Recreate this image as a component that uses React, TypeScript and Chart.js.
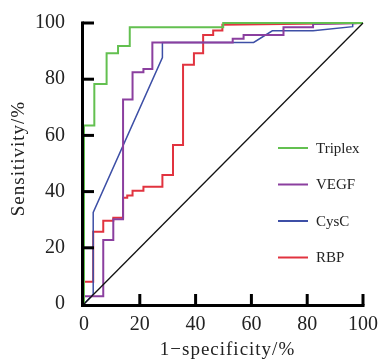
import React, { useEffect, useRef } from "react";
import { Chart, registerables } from "chart.js";

Chart.register(...registerables);

const axisTicks = [0, 20, 40, 60, 80, 100];
const seriesNames = ["Triplex", "VEGF", "CysC", "RBP"];
const xTitle = "1\u2212specificity/%";
const yTitle = "Sensitivity/%";

const triplexX = [0, 0, 3.7, 3.7, 8.1, 8.1, 12.2, 12.2, 16.4, 16.4, 49.9, 49.9, 100];
const triplexY = [0, 63.5, 63.5, 78.3, 78.3, 89.2, 89.2, 91.8, 91.8, 98.5, 98.5, 100, 100];

const vegfX = [0, 0, 6.9, 6.9, 10.5, 10.5, 14, 14, 17.4, 17.4, 21.3, 21.3, 24.5, 24.5, 53.3, 53.3, 57.2, 57.2, 71.5, 71.5, 82.1, 82.1, 100];
const vegfY = [0, 2.8, 2.8, 22.8, 22.8, 30.2, 30.2, 72.8, 72.8, 82.5, 82.5, 83.6, 83.6, 93.1, 93.1, 94.4, 94.4, 95.7, 95.7, 98.5, 98.5, 99.6, 100];

const cyscX = [0, 3.3, 3.3, 28.1, 28.1, 60.8, 67.5, 82.1, 96.3, 96.3, 100];
const cyscY = [0, 3.5, 32.6, 87.7, 93.1, 93.1, 97.2, 97.2, 98.7, 99.8, 100];

const rbpX = [0, 0, 3.3, 3.3, 6.9, 6.9, 10.5, 10.5, 14, 14, 15.5, 15.5, 17.4, 17.4, 21.3, 21.3, 28.1, 28.1, 31.9, 31.9, 35.5, 35.5, 39.4, 39.4, 42.7, 42.7, 46.3, 46.3, 49.6, 49.6, 100];
const rbpY = [0, 7.9, 7.9, 25.7, 25.7, 29.6, 29.6, 30.7, 30.7, 37.8, 37.8, 38.6, 38.6, 40.3, 40.3, 41.7, 41.7, 45.9, 45.9, 56.6, 56.6, 85.1, 85.1, 89.2, 89.2, 95.7, 95.7, 97.3, 97.3, 99.4, 100];

const refX = [0, 100];
const refY = [0, 100];

const colors = ["#63c050", "#8b3f9f", "#3d4fa6", "#e1333f"];
const FONT = "'Liberation Serif', 'Times New Roman', serif";

const toPts = (xs: number[], ys: number[]) => xs.map((x, i) => ({ x, y: ys[i] }));

const axesPlugin = {
  id: "customAxes",
  afterDatasetsDraw(chart: any) {
    const ctx = chart.ctx;
    const xs = chart.scales.x;
    const ys = chart.scales.y;
    const left = xs.getPixelForValue(0);
    const bottom = ys.getPixelForValue(0);
    ctx.save();
    ctx.strokeStyle = "#000";
    ctx.lineWidth = 3;
    ctx.lineCap = "butt";
    ctx.beginPath();
    ctx.moveTo(left - 1.5, ys.getPixelForValue(100) - 1.5);
    ctx.lineTo(left - 1.5, bottom + 1.5);
    ctx.lineTo(xs.getPixelForValue(100) + 1.5, bottom + 1.5);
    ctx.stroke();
    axisTicks.forEach((t) => {
      if (t === 0) return;
      const py = ys.getPixelForValue(t);
      ctx.beginPath();
      ctx.moveTo(left - 1.5, py);
      ctx.lineTo(left + 10, py);
      ctx.stroke();
      const px = xs.getPixelForValue(t);
      ctx.beginPath();
      ctx.moveTo(px, bottom + 1.5);
      ctx.lineTo(px, bottom - 10);
      ctx.stroke();
    });
    ctx.restore();
  },
};

const titlesPlugin = {
  id: "customTitles",
  afterDraw(chart: any) {
    const ctx = chart.ctx;
    const a = chart.chartArea;
    ctx.save();
    ctx.fillStyle = "#222";
    ctx.font = `19px ${FONT}`;
    (ctx as any).letterSpacing = "1px";
    ctx.textAlign = "center";
    ctx.textBaseline = "alphabetic";
    ctx.fillText(xTitle, (a.left + a.right) / 2 + 4, 355);
    ctx.translate(24, (a.top + a.bottom) / 2 - 5);
    ctx.rotate(-Math.PI / 2);
    ctx.fillText(yTitle, 0, 0);
    ctx.restore();
  },
};

const legendPlugin = {
  id: "customLegend",
  afterDraw(chart: any) {
    const ctx = chart.ctx;
    ctx.save();
    ctx.font = `15px ${FONT}`;
    ctx.textBaseline = "middle";
    ctx.fillStyle = "#222";
    chart.data.datasets.forEach((ds: any) => {
      if (!ds.showInLegend) return;
      const y = 148 + ds.legendIndex * 36.5;
      ctx.strokeStyle = ds.borderColor;
      ctx.lineWidth = 2;
      ctx.beginPath();
      ctx.moveTo(278, y);
      ctx.lineTo(308, y);
      ctx.stroke();
      ctx.fillText(ds.label, 316, y + 1);
    });
    ctx.restore();
  },
};

export default function App() {
  const ref = useRef<HTMLCanvasElement>(null);
  useEffect(() => {
    document.body.style.margin = "0";
    const series = [
      toPts(triplexX, triplexY),
      toPts(vegfX, vegfY),
      toPts(cyscX, cyscY),
      toPts(rbpX, rbpY),
    ];
    const datasets: any[] = series.map((d, i) => ({
      label: seriesNames[i],
      data: d,
      borderColor: colors[i],
      backgroundColor: colors[i],
      borderWidth: i === 2 ? 1.5 : 2,
      pointRadius: 0,
      tension: 0,
      clip: false,
      showInLegend: true,
      legendIndex: i,
    }));
    datasets.unshift({
      label: "ref",
      data: toPts(refX, refY),
      borderColor: "#111",
      borderWidth: 1.3,
      pointRadius: 0,
      clip: false,
      showInLegend: false,
    });
    const chart = new Chart(ref.current!, {
      type: "line",
      data: { datasets },
      options: {
        responsive: false,
        animation: false,
        layout: { padding: { top: 23, right: 16, left: 0, bottom: 0 } },
        plugins: { legend: { display: false }, tooltip: { enabled: false } },
        scales: {
          x: {
            type: "linear",
            min: 0,
            max: 100,
            grid: { display: false },
            border: { display: false },
            afterBuildTicks: (s: any) => {
              s.ticks = axisTicks.map((v) => ({ value: v }));
            },
            afterFit: (s: any) => {
              s.height = 55;
              s.paddingLeft = 0;
              s.paddingRight = 0;
            },
            ticks: { color: "#222", font: { family: FONT, size: 20 }, padding: 1, maxRotation: 0 },
          },
          y: {
            type: "linear",
            min: 0,
            max: 100,
            grid: { display: false },
            border: { display: false },
            afterBuildTicks: (s: any) => {
              s.ticks = axisTicks.map((v) => ({ value: v }));
            },
            afterFit: (s: any) => {
              s.width = 84;
              s.paddingTop = 0;
              s.paddingBottom = 0;
            },
            ticks: { color: "#222", font: { family: FONT, size: 20 }, padding: 11 },
          },
        },
      },
      plugins: [axesPlugin, titlesPlugin, legendPlugin],
    });
    return () => chart.destroy();
  }, []);
  return (
    <div style={{ width: 379, height: 359 }}>
      <canvas ref={ref} width={379} height={359} style={{ display: "block" }} />
    </div>
  );
}
